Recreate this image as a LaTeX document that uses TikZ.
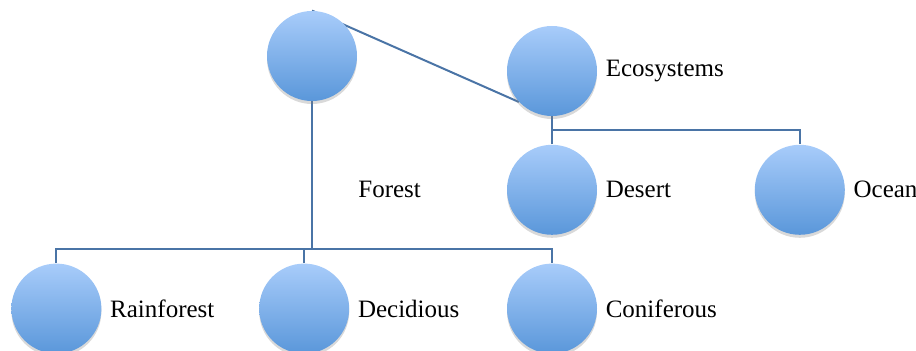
\documentclass[tikz,border=0pt]{standalone}
\usepackage{fontspec}
\setmainfont{Liberation Serif}
\usetikzlibrary{positioning,shadows,backgrounds}

\definecolor{bubbletop}{HTML}{A8CCFA}
\definecolor{bubblebot}{HTML}{5A97DA}
\definecolor{linkblue}{HTML}{4A74A6}

\tikzset{
  bubble/.style={circle,minimum size=45pt,inner sep=0pt,
    top color=bubbletop,bottom color=bubblebot,
    drop shadow={opacity=0.3,shadow xshift=0pt,shadow yshift=-1.5pt}},
  word/.style={font=\fontsize{12.5}{14}\selectfont,inner sep=0pt,anchor=west},
  link/.style={draw=linkblue,line width=1pt}
}

\begin{document}
\begin{tikzpicture}[x=0.5pt,y=-0.5pt]
\useasboundingbox (0,0) rectangle (916,351);

\node[bubble] (forest)                          at (312,56) {};
\node[bubble] (eco)                             at (552,71) {};
\node[bubble] (desert) [below=14pt of eco]      {};
\node[bubble] (ocean)  [right=78.5pt of desert] {};
\node[bubble] (conif)  [below=14pt of desert]   {};
\node[bubble] (decid)  [left=78.5pt of conif]   {};
\node[bubble] (rain)   [left=78.5pt of decid]   {};

\node[word] (forestlbl) at (358,189)             {Forest};
\node[word] (ecolbl)    [right=4pt of eco]       {Ecosystems};
\node[word] (desertlbl) [right=4pt of desert]    {Desert};
\node[word] (oceanlbl)  [right=4pt of ocean]     {Ocean};
\node[word] (rainlbl)   [right=4pt of rain]      {Rainforest};
\node[word] (decidlbl)  [right=4pt of decid]     {Decidious};
\node[word] (coniflbl)  [right=4pt of conif]     {Coniferous};

\coordinate (forestbar) at ([yshift=7pt]decid.north);
\coordinate (ecobar)    at ([yshift=7pt]desert.north);

\begin{scope}[on background layer]
\draw[link] (forest.north) -- (eco.223);
\draw[link] (forest.south) -- (forest.south |- forestbar);
\draw[link] (rain.north) |- (forestbar) -| (conif.north);
\draw[link] (decid.north) -- (forestbar);
\draw[link] (eco.south) -- (ecobar) -| (ocean.north);
\draw[link] (desert.north) -- (ecobar);
\end{scope}
\end{tikzpicture}
\end{document}
